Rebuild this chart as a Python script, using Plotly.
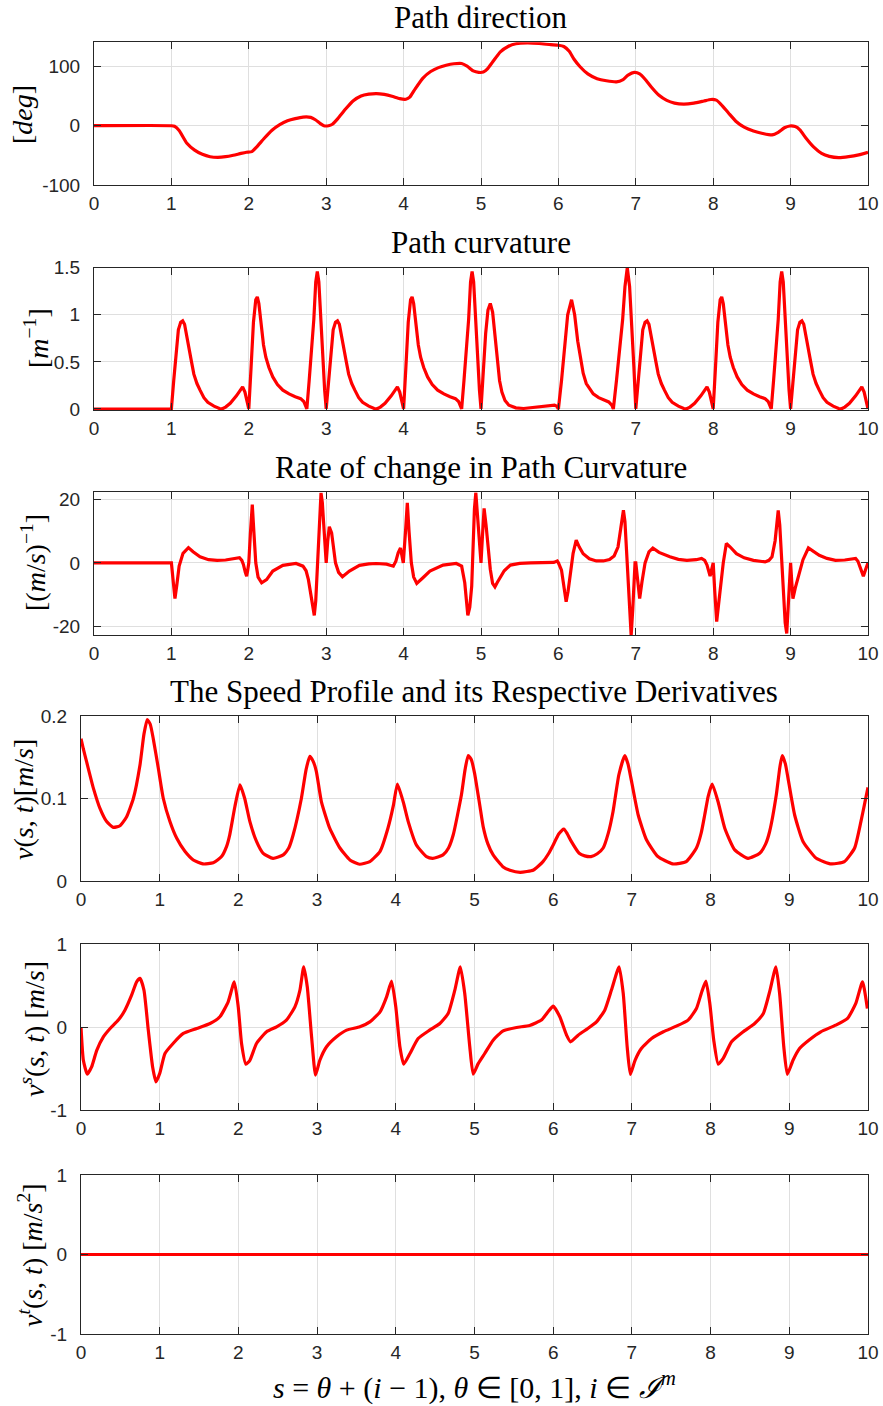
import plotly.graph_objects as go

W, H = 883, 1406

# ---------------- Path direction [deg] ----------------
dir_s = [0, 1.0, 1.04, 1.1, 1.2, 1.3, 1.4, 1.5, 1.6, 1.7, 1.8, 1.9, 1.97, 2.04, 2.1, 2.2, 2.3, 2.4,
         2.5, 2.6, 2.7, 2.8, 2.86, 2.92, 2.97, 3.03, 3.08, 3.15, 3.25, 3.35, 3.45, 3.55, 3.65, 3.75,
         3.85, 3.95, 4.03, 4.08, 4.15, 4.25, 4.35, 4.45, 4.55, 4.65, 4.75, 4.82, 4.9, 4.97, 5.03,
         5.08, 5.15, 5.25, 5.35, 5.45, 5.6, 5.75, 5.9, 6.0, 6.07, 6.14, 6.2, 6.28, 6.38, 6.5, 6.62,
         6.75, 6.83, 6.9, 6.98, 7.05, 7.12, 7.2, 7.3, 7.4, 7.5, 7.62, 7.75, 7.88, 7.97, 8.04, 8.1,
         8.2, 8.3, 8.4, 8.52, 8.64, 8.76, 8.84, 8.92, 8.99, 9.06, 9.12, 9.2, 9.3, 9.4, 9.5, 9.62,
         9.75, 9.88, 10.0]
dir_deg = [0, 0, -1, -8, -29.5, -41, -48, -52, -53, -52, -49.6, -46.5, -44.6, -43.5, -36, -21, -7.5, 2,
           8.4, 12, 14.5, 14, 10, 4, 0, 0, 2.5, 12, 28, 42, 50, 53, 54, 52.5,
           49.5, 45.5, 44.5, 48, 62, 80, 91, 97.5, 101.5, 104, 104.5, 100, 92, 89.5, 90,
           95, 107, 124, 133, 137.5, 139, 138, 136, 135, 133, 125, 112, 99, 87, 79, 75.5,
           73.7, 77, 85, 89.5, 87, 78, 65, 51, 42.5, 38, 36.3, 38, 41.5, 44, 43, 36,
           21, 6.7, -2.5, -8.9, -13, -15.5, -11, -3.5, -0.5, -1.5, -7, -21, -36, -46.5, -51.5, -53.6,
           -52, -49, -44.6]

# ---------------- Path curvature [1/m] ----------------
curv_s = [0, 1.0,
          1.03, 1.06, 1.09, 1.12, 1.146, 1.17, 1.2, 1.23, 1.26, 1.29, 1.33, 1.37, 1.42, 1.47, 1.55,
          1.62, 1.65, 1.7, 1.76, 1.84, 1.92, 1.95, 1.975, 2.0,
          2.03, 2.06, 2.09, 2.11, 2.13, 2.16, 2.19, 2.22, 2.26, 2.31, 2.37, 2.44, 2.52, 2.6, 2.67,
          2.71, 2.735, 2.75, 2.78, 2.81, 2.84, 2.865, 2.885, 2.905, 2.93, 2.96, 2.98, 3.0,
          3.03, 3.06, 3.09, 3.12, 3.146, 3.17, 3.2, 3.23, 3.26, 3.29, 3.33, 3.37, 3.42, 3.47, 3.55,
          3.62, 3.65, 3.7, 3.76, 3.84, 3.92, 3.95, 3.975, 4.0,
          4.03, 4.06, 4.09, 4.11, 4.13, 4.16, 4.19, 4.22, 4.26, 4.31, 4.37, 4.44, 4.52, 4.6, 4.67,
          4.71, 4.735, 4.75, 4.78, 4.81, 4.84, 4.865, 4.885, 4.905, 4.93, 4.96, 4.98, 5.0,
          5.03, 5.06, 5.09, 5.12, 5.15, 5.18, 5.21, 5.24, 5.27, 5.31, 5.36, 5.45, 5.55, 5.7, 5.85,
          5.95, 5.98, 6.0,
          6.04, 6.08, 6.12, 6.17, 6.21, 6.25, 6.28, 6.32, 6.36, 6.41, 6.45, 6.52, 6.58, 6.65, 6.69,
          6.71, 6.75, 6.79, 6.83, 6.86, 6.89, 6.92, 6.95, 6.975, 7.0,
          7.03, 7.06, 7.09, 7.12, 7.146, 7.17, 7.2, 7.23, 7.26, 7.29, 7.33, 7.37, 7.42, 7.47, 7.55,
          7.62, 7.65, 7.7, 7.76, 7.84, 7.92, 7.95, 7.975, 8.0,
          8.03, 8.06, 8.09, 8.11, 8.13, 8.16, 8.19, 8.22, 8.26, 8.31, 8.37, 8.44, 8.52, 8.6, 8.67,
          8.71, 8.735, 8.75, 8.78, 8.81, 8.84, 8.865, 8.885, 8.905, 8.93, 8.96, 8.98, 9.0,
          9.03, 9.06, 9.09, 9.12, 9.146, 9.17, 9.2, 9.23, 9.26, 9.29, 9.33, 9.37, 9.42, 9.47, 9.55,
          9.62, 9.65, 9.7, 9.76, 9.84, 9.92, 9.95, 9.975, 10.0]
curv_k = [0, 0,
          0.3, 0.62, 0.84, 0.92, 0.935, 0.9, 0.78, 0.64, 0.5, 0.37, 0.27, 0.2, 0.12, 0.07, 0.03,
          0.005, 0, 0.02, 0.06, 0.14, 0.235, 0.18, 0.08, 0,
          0.45, 0.92, 1.16, 1.19, 1.12, 0.88, 0.68, 0.55, 0.44, 0.34, 0.26, 0.2, 0.16, 0.13, 0.11,
          0.08, 0.04, 0, 0.3, 0.62, 0.95, 1.35, 1.46, 1.35, 0.95, 0.5, 0.2, 0,
          0.3, 0.62, 0.84, 0.92, 0.935, 0.9, 0.78, 0.64, 0.5, 0.37, 0.27, 0.2, 0.12, 0.07, 0.03,
          0.005, 0, 0.02, 0.06, 0.14, 0.235, 0.18, 0.08, 0,
          0.45, 0.92, 1.16, 1.19, 1.12, 0.88, 0.68, 0.55, 0.44, 0.34, 0.26, 0.2, 0.16, 0.13, 0.11,
          0.08, 0.04, 0, 0.3, 0.62, 0.95, 1.35, 1.46, 1.35, 0.95, 0.5, 0.2, 0,
          0.4, 0.8, 1.05, 1.12, 1.03, 0.78, 0.5, 0.3, 0.18, 0.09, 0.04, 0.012, 0.005, 0.015, 0.03,
          0.04, 0.03, 0,
          0.3, 0.7, 1.0, 1.16, 1.0, 0.72, 0.55, 0.38, 0.27, 0.2, 0.16, 0.12, 0.1, 0.075, 0.04,
          0, 0.3, 0.6, 0.95, 1.3, 1.5, 1.3, 0.9, 0.45, 0,
          0.3, 0.62, 0.84, 0.92, 0.935, 0.9, 0.78, 0.64, 0.5, 0.37, 0.27, 0.2, 0.12, 0.07, 0.03,
          0.005, 0, 0.02, 0.06, 0.14, 0.235, 0.18, 0.08, 0,
          0.45, 0.92, 1.16, 1.19, 1.12, 0.88, 0.68, 0.55, 0.44, 0.34, 0.26, 0.2, 0.16, 0.13, 0.11,
          0.08, 0.04, 0, 0.3, 0.62, 0.95, 1.35, 1.46, 1.35, 0.95, 0.5, 0.2, 0,
          0.3, 0.62, 0.84, 0.92, 0.935, 0.9, 0.78, 0.64, 0.5, 0.37, 0.27, 0.2, 0.12, 0.07, 0.03,
          0.005, 0, 0.02, 0.06, 0.14, 0.235, 0.18, 0.08, 0]

# ---------------- Rate of change in path curvature ----------------
rate_s = [0, 1.0, 1.02, 1.046, 1.07, 1.1, 1.15, 1.22, 1.28, 1.37, 1.48, 1.59, 1.7, 1.78, 1.85,
          1.88, 1.91, 1.93, 1.955, 1.972, 1.985, 2.0,
          2.02, 2.045, 2.065, 2.09, 2.12, 2.166, 2.23, 2.31, 2.44, 2.61, 2.7, 2.74, 2.77, 2.81,
          2.846, 2.865, 2.885, 2.9, 2.915, 2.933, 2.95, 2.97, 2.993, 3.0,
          3.02, 3.04, 3.07, 3.095, 3.12, 3.16, 3.21, 3.3, 3.43, 3.55, 3.65, 3.78, 3.867, 3.9, 3.93,
          3.96, 3.98, 3.996,
          4.025, 4.048, 4.07, 4.1, 4.13, 4.17, 4.25, 4.34, 4.51, 4.68, 4.75, 4.79, 4.83, 4.855,
          4.88, 4.9, 4.915, 4.933, 4.95, 4.98, 5.0,
          5.02, 5.04, 5.065, 5.09, 5.12, 5.15, 5.18, 5.21, 5.25, 5.3, 5.38, 5.5, 5.64, 5.8, 5.94,
          5.985, 6.0,
          6.04, 6.07, 6.1, 6.125, 6.15, 6.19, 6.23, 6.27, 6.32, 6.4, 6.49, 6.58, 6.66, 6.72, 6.77,
          6.81, 6.84, 6.86, 6.88, 6.9, 6.91, 6.94, 6.96, 6.975, 6.99, 7.0,
          7.02, 7.05, 7.08, 7.12, 7.17, 7.22, 7.3, 7.44, 7.55, 7.66, 7.78, 7.85, 7.89, 7.92, 7.96,
          7.985, 8.0,
          8.02, 8.045, 8.07, 8.1, 8.13, 8.17, 8.22, 8.3, 8.4, 8.52, 8.67, 8.72, 8.76, 8.8, 8.84,
          8.86, 8.88, 8.9, 8.93, 8.95, 8.97, 8.99, 9.0,
          9.015, 9.03, 9.06, 9.1, 9.16, 9.23, 9.3, 9.37, 9.47, 9.58, 9.7, 9.84, 9.87, 9.9, 9.94,
          9.97, 10.0]
rate_k = [0, 0, -5, -11.3, -7, -1, 3, 4.8, 3.5, 1.9, 1.0, 0.8, 0.9, 1.1, 1.5,
          1.6, 0.8, -0.5, -3, -4.2, -2.5, 0,
          9, 18.4, 10, 0, -4.5, -6.3, -5.3, -2.6, -0.8, -0.2, -1.05, -2.5, -5.3, -11.6,
          -16.6, -12, -3, 5, 15, 22.1, 19, 10, 0, 0,
          7, 11.4, 9.5, 4, 0, -3, -4.4, -2.6, -0.8, -0.3, -0.2, -0.4, -1.05, 0.5, 3.2,
          4.7, 2.5, 0,
          10, 19, 10, 0, -4.5, -6.5, -4.7, -2.6, -0.7, -0.2, -1.05, -6.3, -16.6, -14,
          -7.4, 8.4, 17, 22.2, 17, 5, 0,
          9, 17.2, 12, 5, -2, -6.5, -7.6, -6.2, -4.4, -2.5, -0.7, -0.15, 0, 0.05, 0.15,
          0.6, 0,
          -2.3, -8, -12.3, -9, -4.4, 3, 7.2, 5, 2.9, 1.3, 0.6, 0.6, 1.05, 2.2, 5,
          11, 16.6, 13, 4, -6, -11.8, -22.9, -15, -7, 0, 0,
          -5, -11.3, -6, 0, 3.5, 4.7, 3.3, 1.9, 1.1, 0.8, 1.0, 1.4, 0.8, -0.7, -4.2,
          -1, 0,
          -9, -18.6, -13, -6.5, 0, 6.1, 5, 2.9, 1.6, 0.8, 0.3, 0.8, 1.9, 7, 16.6,
          12, 4, -6, -19, -22.3, -12, -3, 0,
          -6, -11.3, -8, -4.4, 1, 4.7, 3.5, 2.4, 1.4, 0.8, 0.9, 1.4, 0.5, -1.3, -4.2,
          -2, 0]

# ---------------- Speed profile v(s,t) [m/s] ----------------
speed_s = [0.0, 0.03, 0.07, 0.157, 0.241, 0.326, 0.41, 0.495, 0.58, 0.665, 0.75, 0.8, 0.842, 0.88,
           0.919, 0.982, 1.046, 1.13, 1.215, 1.32, 1.427, 1.55, 1.68, 1.786, 1.85, 1.89, 1.955,
           2.02, 2.08, 2.146, 2.23, 2.315, 2.44, 2.57, 2.64, 2.696, 2.8, 2.86, 2.907, 2.95, 2.99,
           3.055, 3.16, 3.29, 3.417, 3.54, 3.67, 3.8, 3.9, 3.97, 4.02, 4.094, 4.158, 4.26, 4.39,
           4.47, 4.6, 4.67, 4.73, 4.834, 4.88, 4.92, 4.96, 5.0, 5.04, 5.07, 5.11, 5.17, 5.237,
           5.36, 5.45, 5.58, 5.75, 5.87, 5.94, 6.0, 6.07, 6.135, 6.18, 6.23, 6.33, 6.4, 6.48,
           6.56, 6.635, 6.7, 6.76, 6.835, 6.91, 6.95, 6.995, 7.08, 7.185, 7.33, 7.52, 7.69, 7.82,
           7.88, 7.925, 7.97, 8.02, 8.095, 8.18, 8.307, 8.476, 8.624, 8.7, 8.75, 8.835, 8.88,
           8.91, 8.95, 8.983, 9.068, 9.174, 9.343, 9.534, 9.7, 9.83, 9.91, 9.96, 10.0]
speed_v = [0.1725, 0.16, 0.145, 0.1126, 0.088, 0.072, 0.065, 0.067, 0.078, 0.1, 0.141, 0.178, 0.1956,
           0.19, 0.172, 0.137, 0.1, 0.072, 0.052, 0.036, 0.0255, 0.0207, 0.022, 0.0296, 0.042,
           0.056, 0.09, 0.1166, 0.1, 0.072, 0.048, 0.0336, 0.0275, 0.0316, 0.04, 0.056, 0.1,
           0.135, 0.151, 0.145, 0.133, 0.096, 0.064, 0.04, 0.0255, 0.0203, 0.0235, 0.036, 0.064,
           0.092, 0.1175, 0.096, 0.072, 0.044, 0.0296, 0.0275, 0.0316, 0.04, 0.056, 0.1045,
           0.135, 0.152, 0.147, 0.131, 0.108, 0.09, 0.066, 0.045, 0.0316, 0.0174, 0.013, 0.0105,
           0.0134, 0.0235, 0.033, 0.0437, 0.057, 0.063, 0.057, 0.048, 0.0336, 0.0305, 0.0296,
           0.033, 0.04, 0.058, 0.084, 0.129, 0.152, 0.142, 0.121, 0.08, 0.05, 0.0296, 0.0207,
           0.0235, 0.04, 0.058, 0.08, 0.103, 0.1175, 0.096, 0.064, 0.0377, 0.0275, 0.0336, 0.045,
           0.06, 0.1045, 0.138, 0.152, 0.142, 0.125, 0.08, 0.048, 0.0275, 0.0207, 0.0235, 0.04,
           0.072, 0.095, 0.1134]

# ---------------- v^s(s,t) [m/s] ----------------
vs_s = [0.0, 0.03, 0.08, 0.135, 0.2, 0.284, 0.37, 0.474, 0.558, 0.643, 0.707, 0.75, 0.8, 0.855,
        0.91, 0.953, 1.0, 1.067, 1.17, 1.3, 1.47, 1.64, 1.765, 1.87, 1.948, 1.998, 2.04, 2.095,
        2.146, 2.23, 2.358, 2.485, 2.61, 2.718, 2.782, 2.83, 2.875, 2.93, 2.98, 3.035, 3.12,
        3.247, 3.375, 3.544, 3.67, 3.8, 3.883, 3.946, 4.0, 4.052, 4.1, 4.18, 4.284, 4.43, 4.56,
        4.665, 4.75, 4.82, 4.876, 4.94, 4.983, 5.047, 5.13, 5.237, 5.364, 5.534, 5.7, 5.85,
        5.935, 6.0, 6.084, 6.17, 6.22, 6.317, 6.44, 6.55, 6.655, 6.74, 6.837, 6.89, 6.94, 6.98,
        7.04, 7.12, 7.25, 7.4, 7.565, 7.714, 7.82, 7.888, 7.94, 7.99, 8.04, 8.097, 8.16, 8.266,
        8.414, 8.56, 8.67, 8.75, 8.83, 8.877, 8.93, 8.975, 9.047, 9.13, 9.26, 9.4, 9.59, 9.74,
        9.845, 9.93, 9.992]
vs_v = [0.0, -0.4, -0.567, -0.48, -0.28, -0.117, -0.016, 0.085, 0.205, 0.386, 0.547, 0.588, 0.447,
        -0.036, -0.48, -0.66, -0.56, -0.318, -0.197, -0.076, -0.016, 0.044, 0.125, 0.306, 0.547,
        0.245, -0.197, -0.447, -0.4, -0.197, -0.056, 0.004, 0.085, 0.245, 0.447, 0.728, 0.487,
        -0.117, -0.58, -0.4, -0.237, -0.117, -0.036, 0.004, 0.064, 0.185, 0.366, 0.555, 0.245,
        -0.237, -0.447, -0.318, -0.137, -0.036, 0.044, 0.165, 0.447, 0.728, 0.406, -0.237,
        -0.567, -0.44, -0.318, -0.157, -0.044, -0.004, 0.02, 0.085, 0.185, 0.254, 0.125, -0.097,
        -0.177, -0.097, -0.016, 0.064, 0.205, 0.447, 0.728, 0.406, -0.237, -0.57, -0.4, -0.258,
        -0.137, -0.056, 0.012, 0.085, 0.225, 0.427, 0.555, 0.286, -0.157, -0.447, -0.378,
        -0.177, -0.056, 0.044, 0.165, 0.427, 0.728, 0.406, -0.237, -0.57, -0.4, -0.258, -0.149,
        -0.056, 0.024, 0.105, 0.286, 0.547, 0.225]

# ---------------- v^t(s,t) [m/s^2] ----------------
vt_s = [0, 10]
vt_v = [0, 0]

# ---------------- tick labels ----------------
s_ticks = list(range(11))
s_tick_text = [str(t) for t in s_ticks]
dir_ticks, dir_tick_text = [-100, 0, 100], ["-100", "0", "100"]
curv_ticks, curv_tick_text = [0, 0.5, 1, 1.5], ["0", "0.5", "1", "1.5"]
rate_ticks, rate_tick_text = [-20, 0, 20], ["-20", "0", "20"]
speed_ticks, speed_tick_text = [0, 0.1, 0.2], ["0", "0.1", "0.2"]
unit_ticks, unit_tick_text = [-1, 0, 1], ["-1", "0", "1"]

# ---------------- layout geometry (pixels) ----------------
LEFT_TOP, LEFT_BOT, RIGHT = 94, 81, 868
boxes = [  # (left, top, bottom)
    (LEFT_TOP, 42.3, 185.3),
    (LEFT_TOP, 267.7, 410.3),
    (LEFT_TOP, 492.3, 635.3),
    (LEFT_BOT, 716.0, 881.0),
    (LEFT_BOT, 944.3, 1110.0),
    (LEFT_BOT, 1175.0, 1334.0),
]

series = [
    (dir_s, dir_deg, [-100, 140], dir_ticks, dir_tick_text, "spline"),
    (curv_s, curv_k, [-0.014, 1.5], curv_ticks, curv_tick_text, "linear"),
    (rate_s, rate_k, [-22.9, 22.3], rate_ticks, rate_tick_text, "linear"),
    (speed_s, speed_v, [0, 0.2], speed_ticks, speed_tick_text, "spline"),
    (vs_s, vs_v, [-1, 1], unit_ticks, unit_tick_text, "spline"),
    (vt_s, vt_v, [-1, 1], unit_ticks, unit_tick_text, "linear"),
]

AX_COLOR = "#262626"
GRID_COLOR = "#dfdfdf"
TICK_FONT = dict(family="Liberation Sans, Arial, sans-serif", size=19, color=AX_COLOR)
SERIF = "Liberation Serif, Times New Roman, serif"

axis_common = dict(
    showline=True, linecolor=AX_COLOR, linewidth=1, mirror="ticks",
    ticks="inside", ticklen=7, tickwidth=1, tickcolor=AX_COLOR,
    showgrid=True, gridcolor=GRID_COLOR, gridwidth=1, zeroline=False,
    tickfont=TICK_FONT, fixedrange=True, automargin=False,
)

fig = go.Figure()
layout_axes = {}
for i, ((left, top, bottom), (xs, ys, yr, yt, ytt, shape)) in enumerate(zip(boxes, series), start=1):
    xname = "x" if i == 1 else f"x{i}"
    yname = "y" if i == 1 else f"y{i}"
    line = dict(color="#ff0000", width=3.2, shape=shape)
    if shape == "spline":
        line["smoothing"] = 0.5
    fig.add_trace(go.Scatter(x=xs, y=ys, mode="lines", line=line,
                             xaxis=xname, yaxis=yname, showlegend=False,
                             hoverinfo="skip"))
    layout_axes["xaxis" if i == 1 else f"xaxis{i}"] = dict(
        axis_common, domain=[left / W, RIGHT / W], anchor=yname,
        range=[0, 10], tickvals=s_ticks, ticktext=s_tick_text, ticklabelstandoff=1,
    )
    layout_axes["yaxis" if i == 1 else f"yaxis{i}"] = dict(
        axis_common, domain=[1 - bottom / H, 1 - top / H], anchor=xname,
        range=yr, tickvals=yt, ticktext=ytt, ticklabelstandoff=9,
    )

fig.update_layout(template="none", **layout_axes)


def ann(text, x, y, size=28, angle=0):
    return dict(text=text, x=x / W, y=1 - y / H, xref="paper", yref="paper",
                xanchor="center", yanchor="middle", showarrow=False, textangle=angle,
                font=dict(family=SERIF, size=size, color="#000000"))


annotations = [
    ann("Path direction", 481, 18, size=31),
    ann("Path curvature", 481, 243, size=31),
    ann("Rate of change in Path Curvature", 481, 468, size=31),
    ann("The Speed Profile and its Respective Derivatives", 474, 691, size=31),
    ann("[<i>deg</i>]", 22, 115, angle=-90),
    ann("[<i>m</i><sup>−1</sup>]", 36, 338, angle=-90),
    ann("[(<i>m</i>/<i>s</i>)<sup>−1</sup>]", 34, 563, angle=-90),
    ann("<i>v</i>(<i>s</i>, <i>t</i>)[<i>m</i>/<i>s</i>]", 23, 800, angle=-90),
    ann("<i>v<sup>s</sup></i>(<i>s</i>, <i>t</i>) [<i>m</i>/<i>s</i>]", 32, 1029, angle=-90),
    ann("<i>v<sup>t</sup></i>(<i>s</i>, <i>t</i>) [<i>m</i>/<i>s</i><sup>2</sup>]", 30, 1255, angle=-90),
    ann("<i>s</i> = <i>θ</i> + (<i>i</i> − 1), <i>θ</i> ∈ [0, 1], <i>i</i> ∈ <i>ℐ<sup>m</sup></i>",
        474, 1385, size=30),
]

fig.update_layout(
    width=W, height=H,
    margin=dict(l=0, r=0, t=0, b=0, pad=0, autoexpand=False),
    paper_bgcolor="white", plot_bgcolor="white",
    annotations=annotations,
)

fig.write_html("out.html")
